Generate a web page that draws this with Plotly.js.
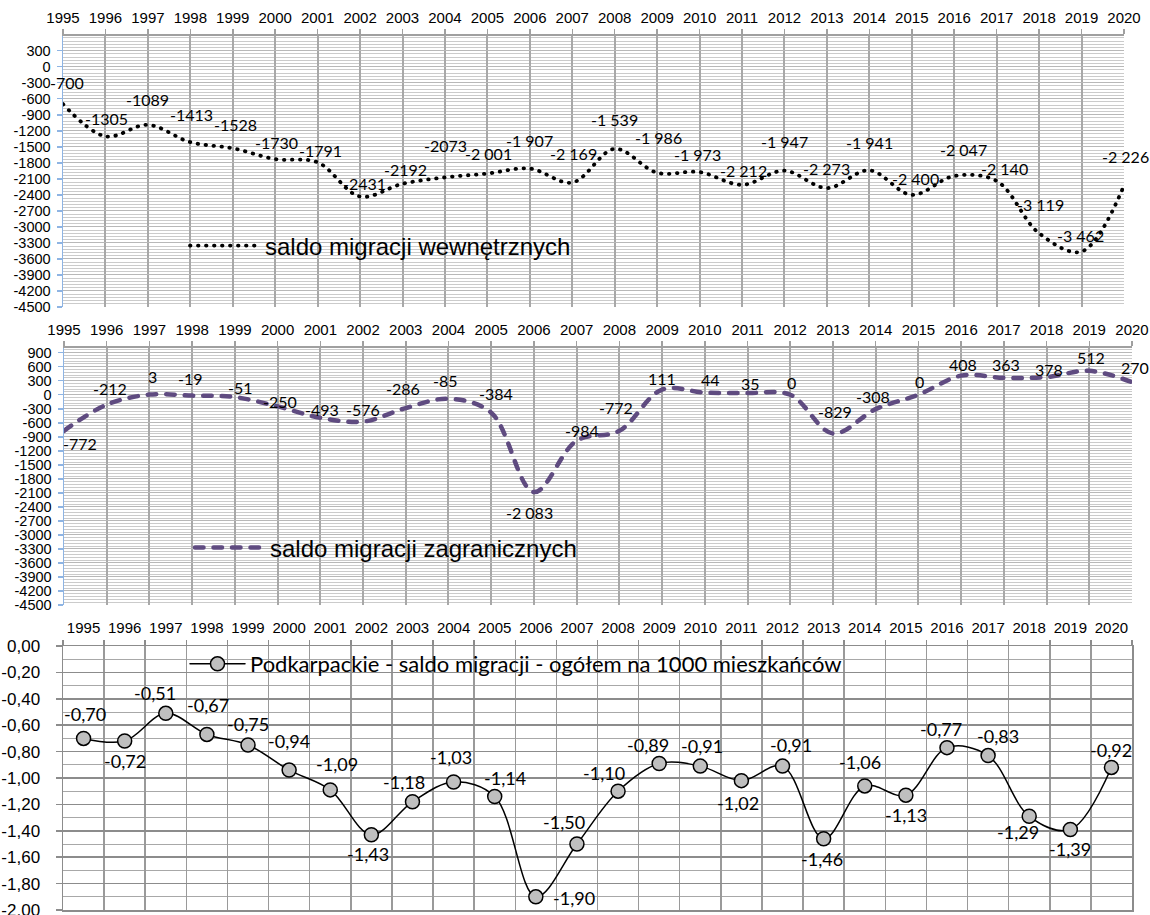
<!DOCTYPE html>
<html><head><meta charset="utf-8">
<script src="https://cdn.plot.ly/plotly-3.0.1.min.js"></script>
<style>html,body{margin:0;padding:0;background:#fff}#chart{width:1150px;height:915px}
#chart path.js-line{stroke-linecap:round}</style>
</head><body><div id="chart"></div>
<script>
// ---------- data ----------
const years = ['1995','1996','1997','1998','1999','2000','2001','2002','2003','2004','2005','2006','2007','2008','2009','2010','2011','2012','2013','2014','2015','2016','2017','2018','2019','2020'];

const internalValues = [-700,-1305,-1089,-1413,-1528,-1730,-1791,-2431,-2192,-2073,-2001,-1907,-2169,-1539,-1986,-1973,-2212,-1947,-2273,-1941,-2400,-2047,-2140,-3119,-3462,-2226];
const internalLabels = ['-700','-1305','-1089','-1413','-1528','-1730','-1791','-2431','-2192','-2073','-2 001','-1 907','-2 169','-1 539','-1 986','-1 973','-2 212','-1 947','-2 273','-1 941','-2 400','-2 047','-2 140','-3 119','-3 462','-2 226'];

const foreignValues = [-772,-212,3,-19,-51,-250,-493,-576,-286,-85,-384,-2083,-984,-772,111,44,35,0,-829,-308,0,408,363,378,512,270];
const foreignLabels = ['-772','-212','3','-19','-51','-250','-493','-576','-286','-85','-384','-2 083','-984','-772','111','44','35','0','-829','-308','0','408','363','378','512','270'];

const totalValues = [-0.70,-0.72,-0.51,-0.67,-0.75,-0.94,-1.09,-1.43,-1.18,-1.03,-1.14,-1.90,-1.50,-1.10,-0.89,-0.91,-1.02,-0.91,-1.46,-1.06,-1.13,-0.77,-0.83,-1.29,-1.39,-0.92];

const internalTicks = [300,0,-300,-600,-900,-1200,-1500,-1800,-2100,-2400,-2700,-3000,-3300,-3600,-3900,-4200,-4500];
const foreignTicks = [900,600,300,0,-300,-600,-900,-1200,-1500,-1800,-2100,-2400,-2700,-3000,-3300,-3600,-3900,-4200,-4500];
const rateTicks = [0,-0.2,-0.4,-0.6,-0.8,-1.0,-1.2,-1.4,-1.6,-1.8,-2.0];

const nameInternal = 'saldo migracji wewnętrznych';
const nameForeign = 'saldo migracji zagranicznych';
const nameTotal = 'Podkarpackie - saldo migracji - ogółem na 1000 mieszkańców';

// ---------- label offsets (style, px: [dx, dy]) ----------
const offInternal = [[4,-22],[1,-18],[0,-25],[1,-28],[3,-24],[1,-17],[3,-12],[4,-13],[3,-14],[1,-32],[1,-20],[0,-28],[1,-29],[0,-29],[1,-35],[-2,-18],[1,-14],[0,-29],[0,-20],[0,-28],[4,-16],[9,-27],[8,-12],[1,-29],[-1,-16],[1,-29]];
const offForeign = [[16,13],[3,-16],[3,-18],[-2,-17],[6,-10],[2,-5],[2,-8],[0,-12],[-3,-20],[-3,-18],[5,-19],[-4,20],[5,-10],[-3,-23],[0,-11],[6,-13],[3,-10],[1,-12],[2,-22],[-3,-13],[1,-13],[2,-11],[2,-13],[2,-8],[2,-13],[3,-15]];
const offTotal = [[1,-24],[0,20],[-11,-20],[1,-29],[0,-21],[0,-29],[7,-26],[-3,19],[-8,-20],[-3,-25],[10,-18],[38,1],[-13,-22],[-14,-18],[-11,-18],[2,-20],[-3,22],[8,-21],[-2,20],[-5,-24],[0,20],[-6,-19],[10,-20],[-11,16],[0,20],[0,-17]];

const W = 1150, H = 915;
const fx = p => p / W;
const fy = p => 1 - p / H;

const tickFont = {family: 'Liberation Sans, Arial, sans-serif', size: 15, color: '#000'};
const yTickFont = {family: 'Liberation Sans, Arial, sans-serif', size: 14.5, color: '#000'};
const labelFont = {family: 'Lato, sans-serif', size: 16, color: '#000'};
const rateLabelFont = {family: 'Lato, sans-serif', size: 18, color: '#000'};

const traces = [
  {x: years, y: internalValues, xaxis: 'x', yaxis: 'y', mode: 'lines', name: nameInternal, legend: 'legend',
   line: {color: '#000', width: 3.8, dash: '0.5px,7.5px', shape: 'spline', smoothing: 1}, hoverinfo: 'skip'},
  {x: years, y: foreignValues, xaxis: 'x2', yaxis: 'y2', mode: 'lines', name: nameForeign, legend: 'legend2',
   line: {color: '#5f4b80', width: 4.5, dash: '8.5px,10px', shape: 'spline', smoothing: 1}, hoverinfo: 'skip'},
  {x: years, y: totalValues, xaxis: 'x3', yaxis: 'y3', mode: 'lines+markers', name: nameTotal, legend: 'legend3',
   line: {color: '#000', width: 1.5, shape: 'spline', smoothing: 1},
   marker: {symbol: 'circle', size: 14, color: '#bfbfbf', line: {color: '#000', width: 1.5}}, hoverinfo: 'skip'}
];

// data labels: positioned at each point through the axes (category index i), shifted in px
const annotations = [];
years.forEach((yr, i) => {
  annotations.push({xref: 'x', yref: 'y', x: i, y: internalValues[i], text: internalLabels[i], showarrow: false,
    xshift: offInternal[i][0], yshift: -offInternal[i][1], font: labelFont});
  annotations.push({xref: 'x2', yref: 'y2', x: i, y: foreignValues[i], text: foreignLabels[i], showarrow: false,
    xshift: offForeign[i][0], yshift: -offForeign[i][1], font: labelFont});
  annotations.push({xref: 'x3', yref: 'y3', x: i, y: totalValues[i], text: totalValues[i].toFixed(2).replace('.', ','), showarrow: false,
    xshift: offTotal[i][0], yshift: -offTotal[i][1], font: rateLabelFont});
});

const topX = (dom, anchor) => ({
  domain: dom, anchor: anchor, side: 'top', type: 'category', range: [0, 25], tickangle: 0,
  showgrid: true, gridcolor: '#a8a8a8', gridwidth: 2,
  showline: true, linecolor: '#a0a0a0', linewidth: 2,
  ticks: 'outside', ticklen: 5, tickcolor: '#a0a0a0', tickwidth: 1.5,
  tickfont: tickFont, zeroline: false, fixedrange: true
});
const migrY = (dom, anchor, range, ticks) => ({
  domain: dom, anchor: anchor, range: range,
  tickmode: 'array', tickvals: ticks, ticktext: ticks.map(v => String(v)),
  showline: true, linecolor: '#8eb4e3', linewidth: 1.5,
  ticks: 'outside', ticklen: 5, tickcolor: '#8eb4e3', tickwidth: 1.5, ticklabelstandoff: 3,
  showgrid: true, gridcolor: '#b8b8b8', gridwidth: 1,
  minor: {dtick: 60, tick0: -4500, showgrid: true, gridcolor: '#cbcbcb', gridwidth: 1},
  zeroline: false, tickfont: yTickFont, fixedrange: true
});

const layout = {
  width: W, height: H,
  margin: {l: 0, r: 0, t: 0, b: 0, pad: 0},
  paper_bgcolor: '#fff', plot_bgcolor: '#fff',
  showlegend: true,
  xaxis: topX([fx(63), fx(1124)], 'y'),
  yaxis: migrY([1 - 307/H, 1 - 36/H], 'x', [-4500, 575], internalTicks),
  xaxis2: topX([fx(64), fx(1132)], 'y2'),
  yaxis2: migrY([1 - 605/H, 1 - 348/H], 'x2', [-4500, 1000], foreignTicks),
  xaxis3: {
    domain: [fx(63), fx(1132)], anchor: 'y3', side: 'top', type: 'category', range: [-0.5, 25.5], tickangle: 0,
    tickson: 'boundaries', showgrid: true, gridcolor: '#9a9a9a', gridwidth: 1.5,
    showline: true, linecolor: '#8c8c8c', linewidth: 1.5, mirror: true,
    ticks: 'outside', ticklen: 5, tickcolor: '#8c8c8c', tickwidth: 1.5, ticklabelstandoff: 6,
    tickfont: tickFont, zeroline: false, fixedrange: true
  },
  yaxis3: {
    domain: [1 - 910/H, 1 - 646/H], anchor: 'x3', range: [-2, 0],
    tickmode: 'array', tickvals: rateTicks, ticktext: rateTicks.map(v => v.toFixed(2).replace('.', ',')),
    showline: true, linecolor: '#8c8c8c', linewidth: 1.5, mirror: true,
    ticks: 'outside', ticklen: 6, tickcolor: '#8c8c8c', tickwidth: 1.5, ticklabelstandoff: 12,
    ticklabeloverflow: 'allow',
    showgrid: true, gridcolor: '#8c8c8c', gridwidth: 1.5,
    minor: {dtick: 0.1, tick0: 0, showgrid: true, gridcolor: '#a8a8a8', gridwidth: 1},
    zeroline: false, tickfont: {family: 'Liberation Sans, Arial, sans-serif', size: 17, color: '#000'}, fixedrange: true
  },
  legend: {x: fx(185), y: fy(246), xanchor: 'left', yanchor: 'middle', bgcolor: 'rgba(0,0,0,0)', borderwidth: 0,
    itemwidth: 70, font: {family: 'Liberation Sans, Arial, sans-serif', size: 24, color: '#000'}},
  legend2: {x: fx(190), y: fy(548), xanchor: 'left', yanchor: 'middle', bgcolor: 'rgba(0,0,0,0)', borderwidth: 0,
    itemwidth: 70, font: {family: 'Liberation Sans, Arial, sans-serif', size: 24, color: '#000'}},
  legend3: {x: fx(185), y: fy(664), xanchor: 'left', yanchor: 'middle', bgcolor: 'rgba(0,0,0,0)', borderwidth: 0,
    itemwidth: 55, font: {family: 'Lato, sans-serif', size: 22, color: '#000'}},
  annotations: annotations
};

Plotly.newPlot('chart', traces, layout, {displayModeBar: false, staticPlot: true});
</script>
</body></html>
